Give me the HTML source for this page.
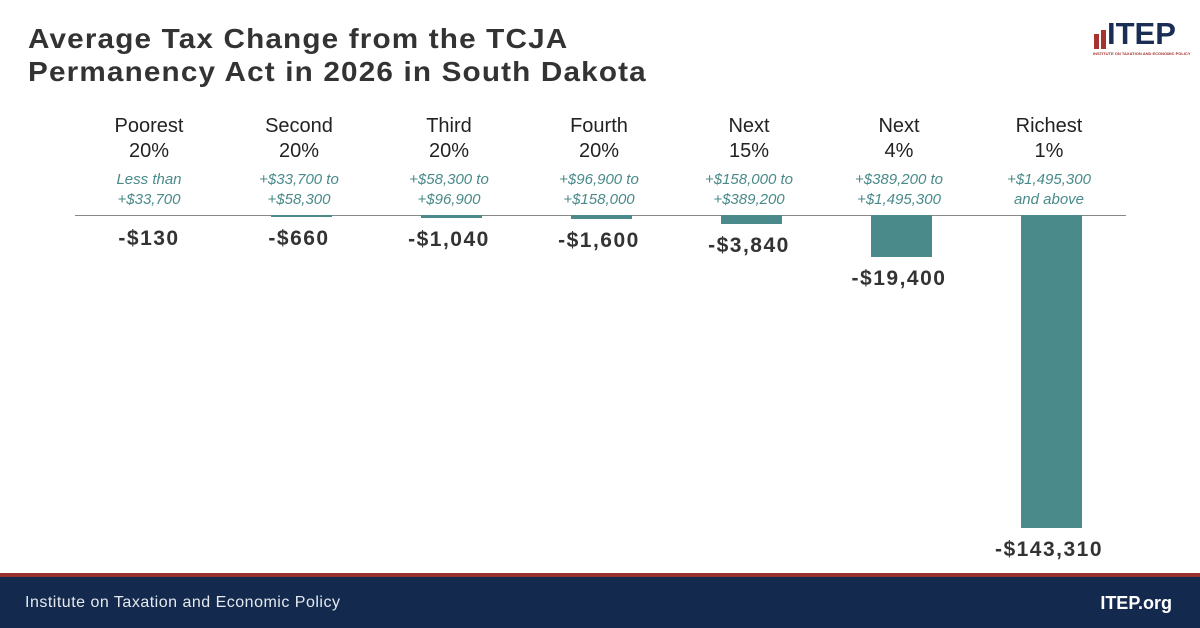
<!DOCTYPE html>
<html><head><style>
body{margin:0;width:1200px;height:628px;position:relative;background:#fff;font-family:"Liberation Sans",sans-serif;overflow:hidden}
.t{position:absolute;left:28px;top:22px;font-size:28px;font-weight:bold;color:#333;line-height:33px;letter-spacing:1.1px;transform:scaleX(1.06);transform-origin:left top}
.c{position:absolute;width:150px;text-align:center;color:#222}
.n{top:114px;font-size:20px;line-height:25px}
.r{top:170px;font-size:15px;line-height:20px;font-style:italic;color:#4a8a8a}
.v{font-size:21px;font-weight:bold;color:#333;letter-spacing:1.5px}
.b{position:absolute;background:#4a8a8a;width:61px}
</style></head><body>
<div class="t">Average Tax Change from the TCJA<br>Permanency Act in 2026 in South Dakota</div>
<div style="position:absolute;left:1094px;top:34px;width:5px;height:15px;background:#a8322e"></div>
<div style="position:absolute;left:1101px;top:30px;width:5px;height:19px;background:#a8322e"></div>
<div style="position:absolute;left:1107px;top:16px;font-size:31px;font-weight:bold;color:#1a2d55;line-height:36px">ITEP</div>
<div style="position:absolute;left:1093px;top:51px;font-size:4px;color:#a8322e;font-weight:bold">INSTITUTE ON TAXATION AND ECONOMIC POLICY</div>
<div style="position:absolute;left:75px;top:215px;width:1051px;height:1px;background:#888"></div>
<div class="c n" style="left:74px">Poorest<br>20%</div><div class="c r" style="left:74px">Less than<br>+$33,700</div>
<div class="c n" style="left:224px">Second<br>20%</div><div class="c r" style="left:224px">+$33,700 to<br>+$58,300</div>
<div class="c n" style="left:374px">Third<br>20%</div><div class="c r" style="left:374px">+$58,300 to<br>+$96,900</div>
<div class="c n" style="left:524px">Fourth<br>20%</div><div class="c r" style="left:524px">+$96,900 to<br>+$158,000</div>
<div class="c n" style="left:674px">Next<br>15%</div><div class="c r" style="left:674px">+$158,000 to<br>+$389,200</div>
<div class="c n" style="left:824px">Next<br>4%</div><div class="c r" style="left:824px">+$389,200 to<br>+$1,495,300</div>
<div class="c n" style="left:974px">Richest<br>1%</div><div class="c r" style="left:974px">+$1,495,300<br>and above</div>
<div class="b" style="left:271px;top:215px;height:1.5px"></div>
<div class="b" style="left:421px;top:215px;height:2.5px"></div>
<div class="b" style="left:571px;top:215px;height:3.5px"></div>
<div class="b" style="left:721px;top:215px;height:8.5px"></div>
<div class="b" style="left:871px;top:215px;height:42px"></div>
<div class="b" style="left:1021px;top:215px;height:313px"></div>
<div class="c v" style="left:64px;width:170px;top:227px">-$130</div>
<div class="c v" style="left:214px;width:170px;top:227px">-$660</div>
<div class="c v" style="left:364px;width:170px;top:228px">-$1,040</div>
<div class="c v" style="left:514px;width:170px;top:229px">-$1,600</div>
<div class="c v" style="left:664px;width:170px;top:234px">-$3,840</div>
<div class="c v" style="left:814px;width:170px;top:267px">-$19,400</div>
<div class="c v" style="left:964px;width:170px;top:538px">-$143,310</div>
<div style="position:absolute;left:0;top:573px;width:1200px;height:4px;background:#9b2f2f"></div>
<div style="position:absolute;left:0;top:577px;width:1200px;height:51px;background:#132a4e"></div>
<div style="position:absolute;left:25px;top:594px;font-size:16px;letter-spacing:0.5px;color:#e6e9ef">Institute on Taxation and Economic Policy</div>
<div style="position:absolute;right:28px;top:593px;font-size:18px;font-weight:bold;color:#fff">ITEP.org</div>
</body></html>
